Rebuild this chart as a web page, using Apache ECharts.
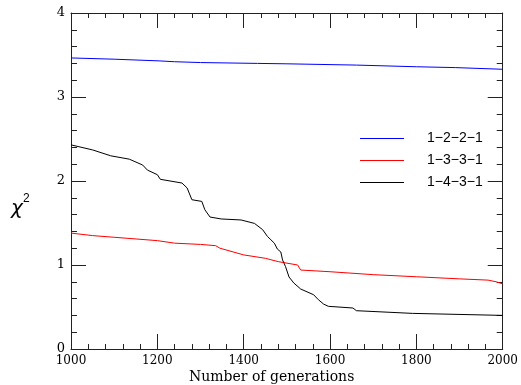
<!DOCTYPE html>
<html><head><meta charset="utf-8">
<script src="https://cdn.jsdelivr.net/npm/echarts@6/dist/echarts.min.js"></script>
<style>html,body{margin:0;padding:0;background:#fff}#c{width:521px;height:385px}</style>
</head><body><div id="c"></div>
<script>
const seriesNames = ['1−2−2−1', '1−3−3−1', '1−4−3−1'];
const xTickLabels = ['1000', '1200', '1400', '1600', '1800', '2000'];
const yTickLabels = ['0', '1', '2', '3', '4'];

const blueGen = [1000, 1100, 1204, 1240, 1300, 1432, 1500, 1661, 1800, 1890, 2000];
const blueChi = [3.465, 3.45, 3.43, 3.42, 3.41, 3.40, 3.395, 3.38, 3.36, 3.35, 3.33];

const redGen = [1000, 1050, 1100, 1200, 1240, 1300, 1335, 1345, 1400, 1450, 1480, 1525, 1532, 1600, 1700, 1800, 1900, 1966, 1985, 2000];
const redChi = [1.38, 1.35, 1.33, 1.29, 1.26, 1.245, 1.23, 1.20, 1.12, 1.08, 1.04, 1.00, 0.94, 0.92, 0.885, 0.86, 0.835, 0.82, 0.80, 0.775];

const blackGen = [1000, 1050, 1092, 1135, 1166, 1177, 1200, 1207, 1257, 1269, 1280, 1303, 1310, 1322, 1348, 1394, 1410, 1425, 1444, 1455, 1463, 1471, 1478, 1486, 1490, 1497, 1505, 1516, 1532, 1562, 1573, 1585, 1596, 1653, 1661, 1791, 2000];
const blackChi = [2.43, 2.37, 2.30, 2.26, 2.19, 2.13, 2.075, 2.02, 1.976, 1.917, 1.777, 1.757, 1.658, 1.571, 1.548, 1.536, 1.515, 1.495, 1.42, 1.34, 1.30, 1.26, 1.19, 1.155, 1.06, 0.98, 0.857, 0.786, 0.714, 0.646, 0.587, 0.535, 0.508, 0.488, 0.456, 0.424, 0.40];

const pairs = (xs, ys) => xs.map((x, i) => [x, ys[i]]);
const colors = ['#0000ff', '#ff0000', '#000000'];
const frame = '#222';
const font = 'DejaVu Serif';

function xAx(pos, showLabel) {
  return {
    type: 'value', position: pos, min: 1000, max: 2000, interval: 200,
    axisLine: { show: true, onZero: false, lineStyle: { color: frame, width: 1 } },
    axisTick: { show: true, inside: true, length: 15, lineStyle: { color: frame } },
    minorTick: { show: true, splitNumber: 5, length: 5, lineStyle: { color: frame } },
    splitLine: { show: false },
    axisLabel: { show: showLabel, margin: 6, color: '#000', fontFamily: font, fontSize: 12,
      formatter: v => xTickLabels[xTickLabels.indexOf(String(v))] || '' }
  };
}
function yAx(pos, showLabel) {
  return {
    type: 'value', position: pos, min: 0, max: 4, interval: 1,
    axisLine: { show: true, onZero: false, lineStyle: { color: frame, width: 1 } },
    axisTick: { show: true, inside: true, length: 15, lineStyle: { color: frame } },
    minorTick: { show: true, splitNumber: 5, length: 6, lineStyle: { color: frame } },
    splitLine: { show: false },
    axisLabel: { show: showLabel, margin: 6, color: '#000', fontFamily: font, fontSize: 13,
      formatter: v => yTickLabels[yTickLabels.indexOf(String(v))] || '' }
  };
}

const chart = echarts.init(document.getElementById('c'), null, { renderer: 'canvas' });
chart.setOption({
  animation: false,
  backgroundColor: '#fff',
  grid: { left: 71, right: 13, top: 13, bottom: 36, containLabel: false },
  xAxis: [xAx('bottom', true), xAx('top', false)],
  yAxis: [yAx('left', true), yAx('right', false)],
  legend: {
    left: 355, top: 126, orient: 'vertical', icon: 'rect', itemWidth: 44, itemHeight: 1, itemGap: 7,
    textStyle: { fontFamily: 'Liberation Sans', fontSize: 14, lineHeight: 15, color: '#000', padding: [0, 0, 0, 18] },
    data: seriesNames
  },
  series: [
    { name: seriesNames[0], type: 'line', data: pairs(blueGen, blueChi), symbol: 'none', color: colors[0], lineStyle: { width: 1, color: colors[0] } },
    { name: seriesNames[1], type: 'line', data: pairs(redGen, redChi), symbol: 'none', color: colors[1], lineStyle: { width: 1, color: colors[1] } },
    { name: seriesNames[2], type: 'line', data: pairs(blackGen, blackChi), symbol: 'none', color: colors[2], lineStyle: { width: 1, color: colors[2] } }
  ],
  graphic: [
    { type: 'text', left: 11, top: 199, style: { text: 'χ', font: 'italic 20px "DejaVu Sans"', fill: '#000' } },
    { type: 'text', left: 23, top: 193, style: { text: '2', font: '12px "Liberation Sans"', fill: '#000' } },
    { type: 'text', left: 189, top: 370, style: { text: 'Number of generations', font: '14px "DejaVu Serif"', fill: '#000' } }
  ]
});
</script></body></html>
